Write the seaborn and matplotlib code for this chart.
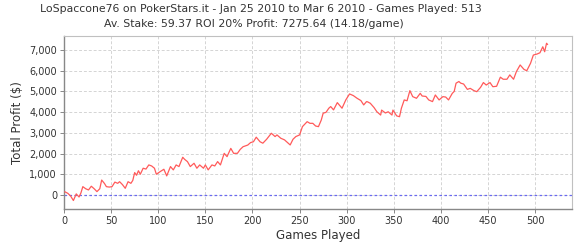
import matplotlib
matplotlib.use("Agg")
import matplotlib.pyplot as plt
import seaborn as sns
import pandas as pd

title_line1 = "LoSpaccone76 on PokerStars.it - Jan 25 2010 to Mar 6 2010 - Games Played: 513"
title_line2 = "Av. Stake: 59.37 ROI 20% Profit: 7275.64 (14.18/game)"
x_label = "Games Played"
y_label = "Total Profit ($)"

games = [1, 4, 7, 10, 13, 16, 18, 20, 23, 26, 29, 32, 35, 38, 40, 43, 45, 48, 51, 54,
         57, 59, 62, 65, 68, 71, 73, 75, 77, 79, 81, 84, 87, 90, 93, 96, 98, 102, 106,
         109, 113, 116, 119, 122, 126, 128, 131, 134, 138, 141, 144, 148, 150, 153, 157,
         160, 163, 166, 170, 173, 177, 180, 184, 187, 190, 195, 198, 201, 204, 208, 211,
         215, 220, 224, 226, 230, 234, 238, 240, 243, 246, 250, 253, 258, 261, 264, 267,
         270, 273, 275, 278, 281, 283, 286, 290, 295, 299, 303, 307, 311, 315, 318, 321,
         322, 325, 329, 332, 336, 337, 341, 344, 348, 349, 353, 356, 358, 361, 364, 367,
         370, 374, 378, 380, 384, 387, 391, 394, 398, 402, 405, 408, 412, 414, 416, 419,
         421, 424, 428, 431, 435, 438, 442, 445, 448, 452, 455, 459, 463, 466, 470, 473,
         477, 480, 484, 488, 491, 495, 498, 502, 505, 508, 510, 512, 513]
profit = [150, 80, -50, -270, 50, -100, 100, 400, 300, 240, 420, 300, 160, 300, 720, 550,
          400, 380, 400, 620, 560, 640, 500, 320, 640, 560, 700, 1080, 950, 1170, 1000,
          1290, 1250, 1450, 1400, 1290, 1000, 1125, 1240, 920, 1370, 1210, 1450, 1370,
          1820, 1720, 1610, 1370, 1530, 1290, 1450, 1290, 1450, 1210, 1450, 1400, 1610,
          1450, 2010, 1850, 2250, 2010, 2010, 2200, 2330, 2410, 2530, 2570, 2790, 2570,
          2500, 2690, 2980, 2820, 2900, 2740, 2660, 2500, 2415, 2690, 2820, 2900, 3300,
          3540, 3460, 3460, 3330, 3300, 3620, 3950, 3990, 4190, 4270, 4110, 4460, 4190,
          4590, 4880, 4800, 4670, 4560, 4350, 4510, 4500, 4430, 4220, 4020, 3860, 4100,
          3960, 4020, 3860, 4100, 3820, 3780, 4190, 4590, 4550, 5040, 4750, 4670, 4910,
          4780, 4760, 4590, 4510, 4830, 4590, 4750, 4730, 4590, 4910, 5000, 5400, 5480,
          5400, 5360, 5100, 5150, 5040, 4990, 5200, 5430, 5310, 5430, 5230, 5250, 5690,
          5590, 5590, 5800, 5590, 5960, 6280, 6070, 6000, 6360, 6760, 6810, 6870, 7160,
          6920, 7330, 7275.64]

df = pd.DataFrame({"game": games, "profit": profit})

fig = plt.figure(figsize=(5.8, 2.5), dpi=100)
ax = fig.add_axes([0.1103, 0.164, 0.8759, 0.692])

ax.axhline(0, color="#6a6af0", lw=0.9, ls=(0, (2, 2)), zorder=1)
sns.lineplot(data=df, x="game", y="profit", ax=ax, color="#ff5a5a", lw=0.9, zorder=3)

ax.set_xlim(0, 539)
ax.set_ylim(-680, 7680)
ax.set_xticks(range(0, 501, 50))
ax.set_yticks(range(0, 7001, 1000))
ax.yaxis.set_major_formatter(matplotlib.ticker.FuncFormatter(lambda v, p: f"{int(v):,}"))
ax.grid(True, color="#d4d4d4", lw=0.7, ls=(0, (3, 2)))
ax.set_axisbelow(True)

for s in ["top", "right"]:
    ax.spines[s].set_color("#c0c0c0")
    ax.spines[s].set_linewidth(0.8)
for s in ["left", "bottom"]:
    ax.spines[s].set_color("#888888")
    ax.spines[s].set_linewidth(1.0)

ax.tick_params(axis="both", labelsize=7, colors="#333333", length=3, width=0.7,
               direction="out", pad=2)
ax.tick_params(axis="both", color="#888888")
ax.set_xlabel(x_label, fontsize=8.5, color="#333333", labelpad=2)
ax.set_ylabel(y_label, fontsize=8.5, color="#333333", labelpad=4)

fig.text(0.45, 0.962, title_line1, ha="center", va="center", fontsize=7.8, color="#333333")
fig.text(0.437, 0.905, title_line2, ha="center", va="center", fontsize=7.8, color="#333333")

fig.savefig("out.png", dpi=100)
